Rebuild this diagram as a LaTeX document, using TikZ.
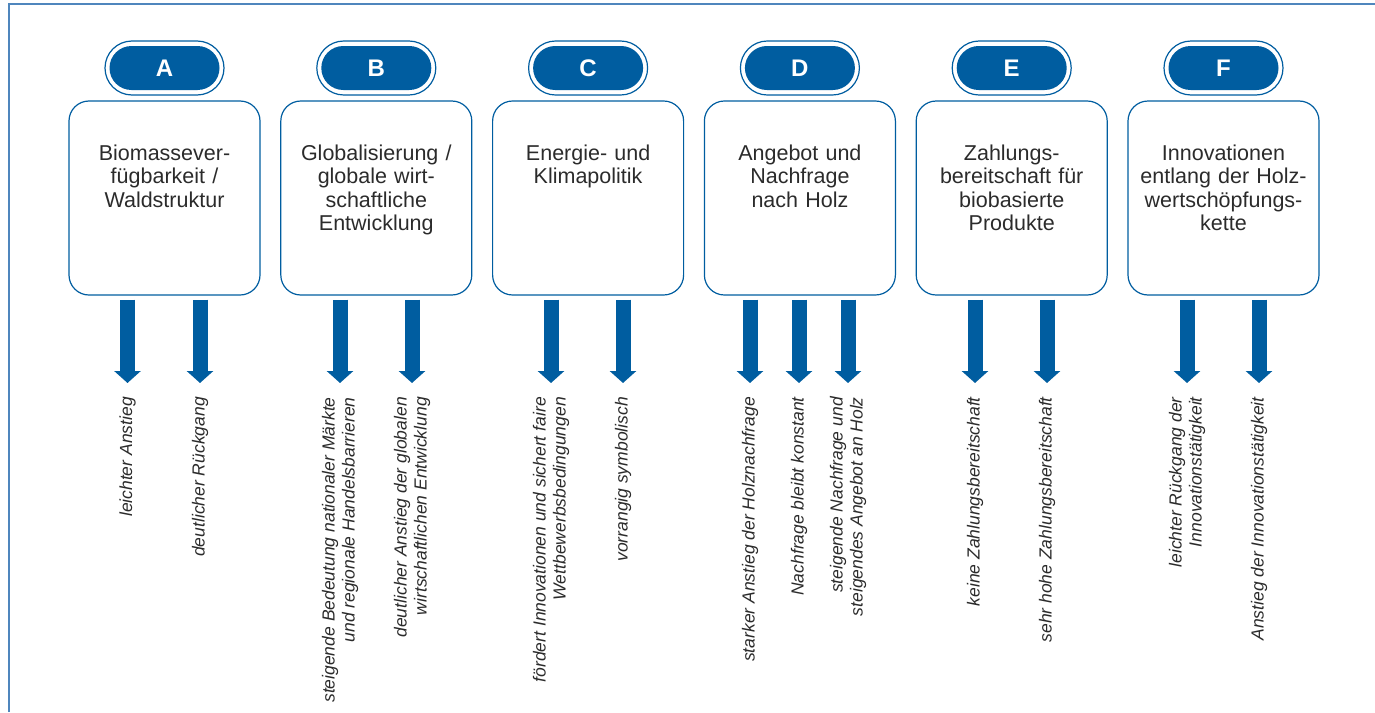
\documentclass[tikz,border=0pt]{standalone}
\usepackage{fontspec}
\setmainfont{Liberation Sans}
\usetikzlibrary{arrows.meta}
\definecolor{bl}{HTML}{005DA0}
\definecolor{frm}{HTML}{4F86BD}
\definecolor{tx}{HTML}{2B2B2B}
\tikzset{
  pillout/.style={draw=bl, line width=1.2pt, fill=white, minimum width=119pt, minimum height=54pt, rounded corners=27pt, inner sep=0pt},
  pillin/.style={fill=bl, minimum width=110pt, minimum height=44pt, rounded corners=22pt, inner sep=0pt, text=white, font=\fontsize{24}{26}\selectfont\bfseries},
  factbox/.style={draw=bl, line width=1.2pt, minimum width=191pt, minimum height=194pt, rounded corners=20pt, inner sep=0pt},
  facttext/.style={anchor=north, align=center, text width=187pt, inner sep=0pt, text=tx, font=\fontsize{21.5}{23.5}\selectfont},
  lbl/.style={rotate=90, anchor=east, align=right, inner sep=0pt, text=tx, font=\fontsize{17.5}{20}\selectfont\itshape},
  barrow/.style={draw=bl, line width=15pt, -{Triangle[width=26pt,length=12pt]}},
}
\begin{document}
\begin{tikzpicture}[x=1pt,y=-1pt]
\useasboundingbox (0,0) rectangle (1375,712);
\draw[frm, line width=1.5pt] (9,712) -- (9,4) -- (1375,4);
% factors
\foreach \n/\cx/\L/\T in {
  A/164.5/A/{Biomassever-\\fügbarkeit /\\Waldstruktur},
  B/376.3/B/{Globalisierung /\\globale wirt-\\schaftliche\\Entwicklung},
  C/588.1/C/{Energie- und\\Klimapolitik},
  D/799.9/D/{Angebot und\\Nachfrage\\nach Holz},
  E/1011.7/E/{Zahlungs-\\bereitschaft für\\biobasierte\\Produkte},
  F/1223.5/F/{Innovationen\\entlang der Holz-\\wertschöpfungs-\\kette}}{
  \node[pillout] (p\n) at (\cx,68) {};
  \node[pillin] (q\n) at (p\n) {\L};
  \node[factbox] (\n) at (\cx,198) {};
  \node[facttext] (t\n) at (\cx,144.5) {\T};
}
% labels
\node[lbl] (a1) at (127.5,397) {leichter Anstieg};
\node[lbl] (a2) at (200,397) {deutlicher Rückgang};
\node[lbl] (b1) at (340,397) {steigende Bedeutung nationaler Märkte\\und regionale Handelsbarrieren};
\node[lbl] (b2) at (412,397) {deutlicher Anstieg der globalen\\wirtschaftlichen Entwicklung};
\node[lbl] (c1) at (551,397) {fördert Innovationen und sichert faire\\Wettbewerbsbedingungen};
\node[lbl] (c2) at (623,397) {vorrangig symbolisch};
\node[lbl] (d1) at (750,397) {starker Anstieg der Holznachfrage};
\node[lbl] (d2) at (799,397) {Nachfrage bleibt konstant};
\node[lbl] (d3) at (848,397) {steigende Nachfrage und\\steigendes Angebot an Holz};
\node[lbl] (e1) at (975,397) {keine Zahlungsbereitschaft};
\node[lbl] (e2) at (1047,397) {sehr hohe Zahlungsbereitschaft};
\node[lbl] (f1) at (1187,397) {leichter Rückgang der\\Innovationstätigkeit};
\node[lbl] (f2) at (1259,397) {Anstieg der Innovationstätigkeit};
% arrows
\foreach \b/\l in {A/a1,A/a2,B/b1,B/b2,C/c1,C/c2,D/d1,D/d2,D/d3,E/e1,E/e2,F/f1,F/f2}{
  \draw[barrow] ([yshift=-4pt]\b.south -| \l.east) -- ([yshift=14pt]\l.east);
}
\end{tikzpicture}
\end{document}
